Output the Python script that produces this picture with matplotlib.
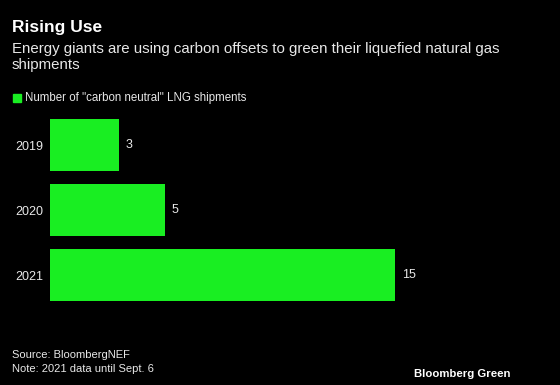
import matplotlib
matplotlib.use("Agg")
import matplotlib.pyplot as plt

# Data
years = ["2019", "2020", "2021"]
shipments = [3, 5, 15]

green = "#19ee22"
bg = "black"
txt = "#e8e8e8"

plt.rcParams["font.family"] = ["Liberation Sans", "DejaVu Sans"]

fig = plt.figure(figsize=(5.6, 3.85), dpi=100, facecolor=bg)
ax = fig.add_axes([50 / 560, 1 - 307.5 / 385, 490 / 560, 195 / 385], facecolor=bg)

pos = list(range(len(years)))
ax.barh(pos, shipments, height=0.8, color=green)
ax.set_ylim(2.5, -0.5)
ax.set_xlim(0, 490 / 23.0)
ax.set_yticks(pos)
ax.set_yticklabels(years, color=txt, fontsize=9)
ax.tick_params(axis="y", length=0, pad=4.5)
ax.set_xticks([])
for s in ax.spines.values():
    s.set_visible(False)

for p, v in zip(pos, shipments):
    ax.text(v + 0.3, p, str(v), color=txt, fontsize=9, va="center", ha="left")

# Titles
fig.text(12 / 560, 1 - 32 / 385, "Rising Use", color="white", fontsize=12.5,
         fontweight="bold", va="baseline")
fig.text(12 / 560, 1 - 53 / 385,
         "Energy giants are using carbon offsets to green their liquefied natural gas",
         color=txt, fontsize=10.8, va="baseline")
fig.text(12 / 560, 1 - 68.5 / 385, "shipments", color=txt, fontsize=10.8, va="baseline")

# Legend
fig.patches.append(plt.Rectangle((13 / 560, 1 - 101.5 / 385), 8 / 560, 8 / 385,
                                 transform=fig.transFigure, color=green))
fig.text(25 / 560, 1 - 101 / 385, 'Number of "carbon neutral" LNG shipments',
         color=txt, fontsize=8.3, va="baseline")

# Footer
fig.text(12 / 560, 1 - 358 / 385, "Source: BloombergNEF", color=txt, fontsize=8,
         va="baseline")
fig.text(12 / 560, 1 - 372 / 385, "Note: 2021 data until Sept. 6", color=txt,
         fontsize=8, va="baseline")
fig.text(511 / 560, 1 - 377 / 385, "Bloomberg Green", color="white", fontsize=8.2,
         fontweight="bold", ha="right", va="baseline")

fig.savefig("out.png", dpi=100, facecolor=bg)
